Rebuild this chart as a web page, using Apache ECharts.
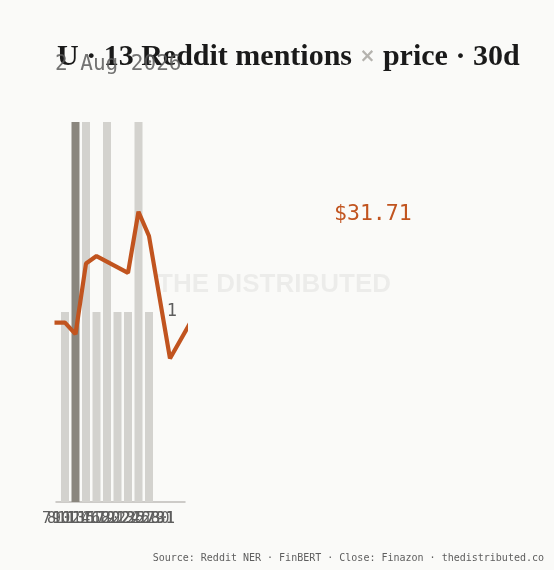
<!DOCTYPE html>
<html>
<head>
<meta charset="utf-8">
<script src="https://cdn.jsdelivr.net/npm/echarts@6/dist/echarts.min.js"></script>
<style>
    html, body { margin: 0; padding: 0; background: #fafaf8; }
    #chart { width: 554px; height: 570px; }
</style>
</head>
<body>
<div id="chart"></div>
<script>
/**
 * DATA
 */
// day index of the window (0 = Jul 20 ... 13 = Aug 2)
var dayIndex = [0, 1, 2, 3, 4, 5, 6, 7, 8, 9, 10, 11, 12, 13];
// reddit mentions per day
var mentions = [0, 1, 2, 2, 1, 2, 1, 1, 2, 1, 0, 0, 0, 0];
// close price, null = no close that day
var closes = [31.70, 31.70, 31.59, 32.26, 32.33, null, null, 32.17, 32.75, 32.52, null, 31.36, null, 31.71];
var highlightDay = 2;
// day labels on the axis
var dayLabels = ['7', '8', '9', '10', '11', '12', '13', '14', '15', '16', '17', '18', '19', '20',
    '21', '22', '23', '24', '25', '26', '27', '28', '29', '30', '31', '1'];

var ORANGE = '#c1541f';
var MONO = '"DejaVu Sans Mono", "Liberation Mono", monospace';

var chart = echarts.init(document.getElementById('chart'));

var barData = dayIndex.map(function (d, i) {
    return {
        value: [d, mentions[i]],
        itemStyle: {color: i === highlightDay ? '#8a867e' : '#d3d2ce'}
    };
});
var lineData = [];
dayIndex.forEach(function (d, i) {
    if (closes[i] != null) {
        lineData.push([d, closes[i]]);
    }
});
var lastClose = lineData[lineData.length - 1][1];

var option = {
    backgroundColor: '#fafaf8',
    animation: false,
    title: {
        left: 52,
        top: 37,
        text: 'U · 13 Reddit mentions {x|×} price · 30d',
        textStyle: {
            fontFamily: '"Liberation Serif", serif',
            fontWeight: 'bold',
            fontSize: 30,
            color: '#1a1a1a',
            rich: {
                x: {
                    fontFamily: '"DejaVu Sans", sans-serif',
                    fontSize: 19,
                    color: '#b5b3ae'
                }
            }
        }
    },
    graphic: [
        {
            type: 'text',
            left: 157,
            top: 272,
            z: 0,
            style: {
                text: 'THE DISTRIBUTED',
                font: 'bold 26px "Liberation Sans", sans-serif',
                fill: 'rgba(0,0,0,0.055)'
            }
        },
        {
            type: 'text',
            left: 55,
            top: 54,
            z: 10,
            style: {
                text: '2 Aug 2026',
                font: '21px ' + MONO,
                fill: 'rgba(90,90,90,0.85)'
            }
        },
        {
            type: 'text',
            left: 334,
            top: 203,
            z: 10,
            style: {
                text: '$' + lastClose.toFixed(2),
                font: '21.5px ' + MONO,
                fill: ORANGE
            }
        },
        {
            type: 'text',
            right: 10,
            bottom: 7,
            z: 10,
            style: {
                text: 'Source: Reddit NER · FinBERT · Close: Finazon · thedistributed.co',
                font: '10px ' + MONO,
                fill: '#5e5e5e'
            }
        }
    ],
    grid: {
        left: 56,
        right: 369,
        top: 122,
        bottom: 68
    },
    xAxis: [
        {
            type: 'value',
            min: 0.143,
            max: 12.43,
            show: false
        },
        {
            type: 'category',
            position: 'bottom',
            data: dayLabels,
            axisLine: {lineStyle: {color: '#bebcb8', width: 1.5}},
            axisTick: {show: false},
            axisLabel: {
                interval: 0,
                margin: 10,
                color: '#5e5e5e',
                fontFamily: MONO,
                fontSize: 15,
                padding: [0, 24, 0, 0]
            },
            splitLine: {show: false}
        }
    ],
    yAxis: [
        {
            type: 'value',
            position: 'right',
            min: 0,
            max: 2,
            interval: 1,
            axisLine: {show: false},
            axisTick: {show: false},
            splitLine: {show: false},
            axisLabel: {
                inside: true,
                showMinLabel: false,
                showMaxLabel: false,
                color: '#5e5e5e',
                fontFamily: MONO,
                fontSize: 17,
                padding: [5, 0, 0, 0]
            }
        },
        {
            type: 'value',
            min: 30,
            max: 33.6,
            show: false
        }
    ],
    series: [
        {
            name: 'mentions',
            type: 'bar',
            xAxisIndex: 0,
            yAxisIndex: 0,
            barWidth: 8,
            data: barData
        },
        {
            name: 'close',
            type: 'line',
            xAxisIndex: 0,
            yAxisIndex: 1,
            showSymbol: false,
            z: 3,
            lineStyle: {color: ORANGE, width: 4.2},
            itemStyle: {color: ORANGE},
            data: lineData
        }
    ]
};
chart.setOption(option);
</script>
</body>
</html>
